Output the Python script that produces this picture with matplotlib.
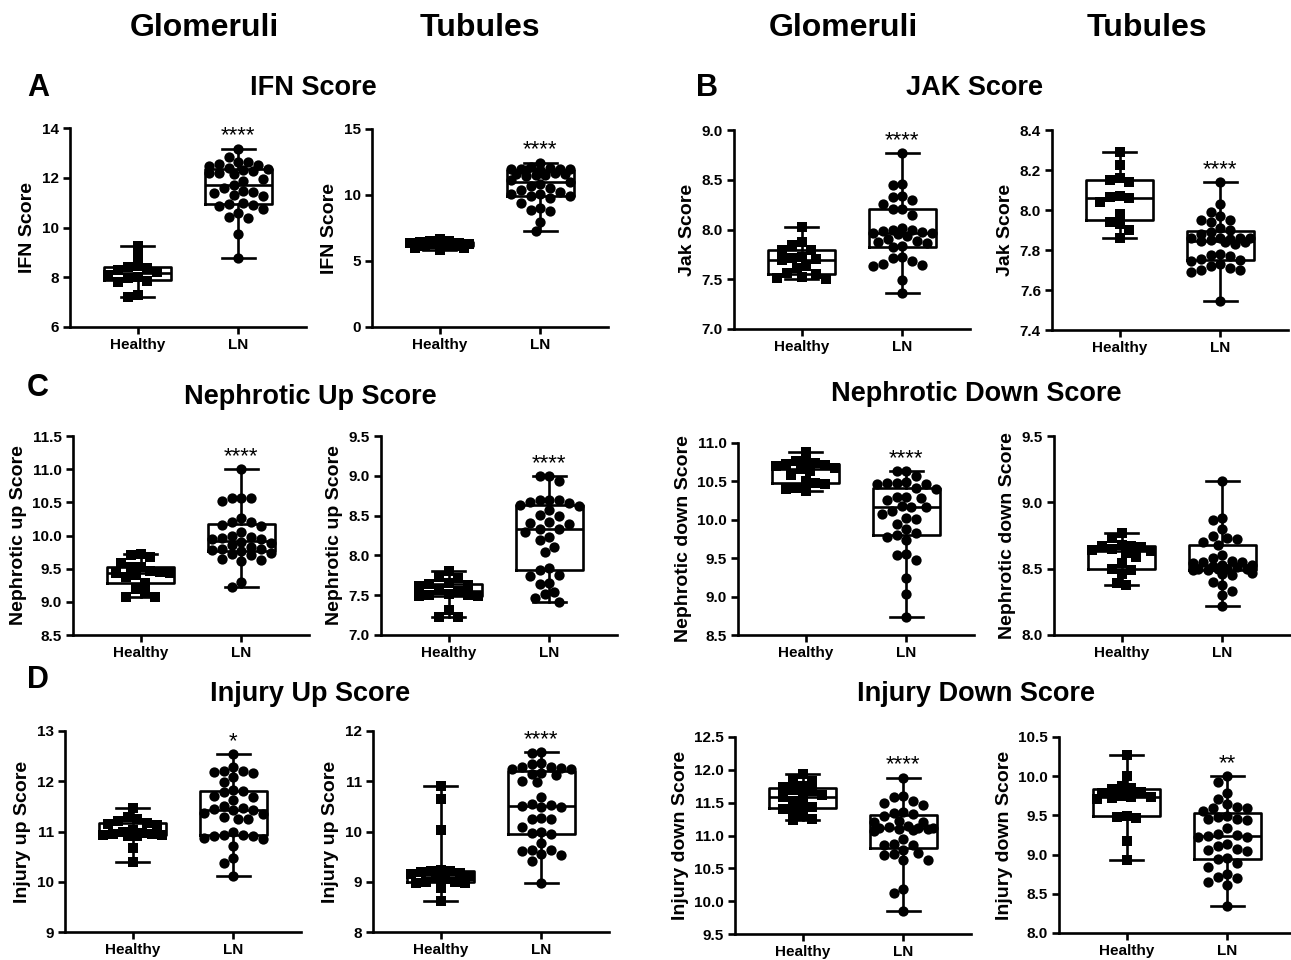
import warnings
warnings.filterwarnings("ignore")
import matplotlib
matplotlib.use("Agg")
import numpy as np
import matplotlib.pyplot as plt

plt.rcParams['font.family'] = ['Liberation Sans', 'DejaVu Sans']
plt.rcParams['font.weight'] = 'bold'

groups = ["Healthy", "LN"]

# ---------------- data ----------------
ifn_glom_healthy = [9.25, 8.85, 8.45, 8.42, 8.38, 8.3, 8.22, 8.1, 8.0, 7.95, 7.85, 7.8, 7.28, 7.2]
ifn_glom_ln = [13.17, 12.85, 12.65, 12.62, 12.55, 12.5, 12.48, 12.38, 12.36, 12.3, 12.28, 12.2, 12.18, 12.15,
               11.95, 11.85, 11.7, 11.6, 11.45, 11.42, 11.4, 11.3, 11.28, 11.0, 10.95, 10.9, 10.85, 10.75,
               10.6, 10.42, 10.38, 9.72, 8.78]

ifn_tub_healthy = [6.65, 6.55, 6.5, 6.45, 6.4, 6.35, 6.3, 6.25, 6.2, 6.15, 6.1, 6.0, 5.95, 5.8]
ifn_tub_ln = [12.45, 12.15, 12.05, 12.0, 12.0, 11.98, 11.95, 11.93, 11.9, 11.65, 11.6, 11.55, 11.5, 11.45,
              11.1, 11.0, 10.83, 10.7, 10.5, 10.4, 10.2, 10.1, 10.05, 9.95, 9.9, 9.75, 9.4, 9.0, 8.85, 8.75,
              7.95, 7.27, 11.62]

jak_glom_healthy = [8.03, 7.87, 7.84, 7.79, 7.79, 7.72, 7.71, 7.70, 7.69, 7.63, 7.61, 7.56, 7.55, 7.52, 7.51, 7.50]
jak_glom_ln = [8.77, 8.46, 8.45, 8.34, 8.33, 8.30, 8.26, 8.21, 8.21, 8.15, 8.02, 8.0, 8.0, 7.98, 7.97, 7.96,
               7.96, 7.95, 7.93, 7.9, 7.88, 7.87, 7.86, 7.83, 7.82, 7.72, 7.71, 7.68, 7.65, 7.64, 7.63, 7.49, 7.36]

jak_tub_healthy = [8.29, 8.225, 8.16, 8.15, 8.14, 8.07, 8.065, 8.06, 8.04, 7.98, 7.94, 7.93, 7.90, 7.86]
jak_tub_ln = [8.14, 8.03, 7.99, 7.97, 7.95, 7.95, 7.94, 7.91, 7.90, 7.89, 7.88, 7.86, 7.86, 7.86, 7.86, 7.855,
              7.85, 7.845, 7.84, 7.84, 7.83, 7.78, 7.775, 7.77, 7.755, 7.75, 7.745, 7.73, 7.72, 7.71, 7.70,
              7.70, 7.69, 7.547]

nup_glom_healthy = [9.72, 9.70, 9.68, 9.58, 9.53, 9.52, 9.47, 9.45, 9.44, 9.43, 9.40, 9.38, 9.28, 9.20, 9.13, 9.08, 9.07]
nup_glom_ln = [11.0, 10.57, 10.56, 10.56, 10.52, 10.26, 10.21, 10.2, 10.16, 10.14, 10.06, 10.0, 9.97, 9.96,
               9.95, 9.94, 9.90, 9.88, 9.86, 9.82, 9.80, 9.79, 9.78, 9.77, 9.74, 9.72, 9.70, 9.64, 9.63, 9.62,
               9.30, 9.22]

nup_tub_healthy = [7.81, 7.73, 7.71, 7.65, 7.64, 7.63, 7.62, 7.56, 7.55, 7.52, 7.50, 7.50, 7.49, 7.49, 7.31, 7.23, 7.22]
nup_tub_ln = [9.0, 9.0, 8.93, 8.70, 8.70, 8.69, 8.67, 8.66, 8.63, 8.62, 8.57, 8.51, 8.49, 8.42, 8.41, 8.40,
              8.33, 8.33, 8.30, 8.23, 8.19, 8.11, 8.04, 7.84, 7.82, 7.76, 7.74, 7.65, 7.64, 7.54, 7.52, 7.46, 7.42]

ndown_glom_healthy = [10.88, 10.77, 10.75, 10.74, 10.73, 10.71, 10.70, 10.68, 10.66, 10.63, 10.58, 10.50,
                      10.48, 10.47, 10.42, 10.40, 10.37]
ndown_glom_ln = [10.63, 10.63, 10.57, 10.49, 10.48, 10.48, 10.47, 10.46, 10.41, 10.40, 10.30, 10.30, 10.29,
                 10.26, 10.18, 10.17, 10.17, 10.12, 10.07, 10.02, 10.01, 9.94, 9.88, 9.83, 9.80, 9.78, 9.74,
                 9.56, 9.54, 9.48, 9.24, 9.03, 8.74]

ndown_tub_healthy = [8.77, 8.73, 8.68, 8.67, 8.67, 8.66, 8.65, 8.64, 8.63, 8.62, 8.59, 8.54, 8.50, 8.49,
                     8.46, 8.39, 8.38]
ndown_tub_ln = [9.16, 8.88, 8.87, 8.80, 8.75, 8.73, 8.72, 8.70, 8.68, 8.60, 8.58, 8.56, 8.55, 8.55, 8.54,
                8.53, 8.53, 8.52, 8.51, 8.50, 8.50, 8.50, 8.50, 8.49, 8.49, 8.47, 8.46, 8.45, 8.40, 8.38,
                8.33, 8.30, 8.22]

iup_glom_healthy = [11.46, 11.28, 11.25, 11.20, 11.17, 11.15, 11.13, 11.03, 11.0, 10.98, 10.96, 10.95, 10.94,
                    10.93, 10.92, 10.91, 10.68, 10.39]
iup_glom_ln = [12.54, 12.28, 12.21, 12.20, 12.18, 12.16, 12.08, 11.99, 11.83, 11.80, 11.78, 11.70, 11.69,
               11.63, 11.51, 11.47, 11.45, 11.43, 11.42, 11.36, 11.35, 11.28, 11.25, 11.24, 11.0, 10.94,
               10.93, 10.92, 10.91, 10.88, 10.86, 10.72, 10.47, 10.37, 10.11]

iup_tub_healthy = [10.9, 10.64, 10.03, 9.23, 9.22, 9.21, 9.20, 9.17, 9.15, 9.12, 9.10, 9.05, 9.0, 8.99,
                   8.98, 8.97, 8.87, 8.62]
iup_tub_ln = [11.58, 11.57, 11.37, 11.35, 11.29, 11.28, 11.27, 11.25, 11.24, 11.16, 11.15, 11.13, 11.0,
              10.98, 10.68, 10.55, 10.53, 10.50, 10.49, 10.48, 10.26, 10.25, 10.24, 10.09, 10.0, 9.97, 9.95,
              9.77, 9.64, 9.63, 9.62, 9.56, 9.54, 9.42, 8.98]

idown_glom_healthy = [11.93, 11.85, 11.83, 11.76, 11.74, 11.70, 11.68, 11.62, 11.60, 11.58, 11.53, 11.45,
                      11.43, 11.41, 11.38, 11.30, 11.25, 11.23]
idown_glom_ln = [11.88, 11.60, 11.58, 11.52, 11.50, 11.46, 11.36, 11.35, 11.32, 11.30, 11.22, 11.21, 11.20,
                 11.14, 11.13, 11.12, 11.12, 11.11, 11.10, 11.10, 11.08, 11.07, 10.94, 10.87, 10.86, 10.85,
                 10.78, 10.73, 10.72, 10.70, 10.63, 10.62, 10.19, 10.12, 9.85]

idown_tub_healthy = [10.27, 10.0, 9.88, 9.85, 9.84, 9.80, 9.79, 9.75, 9.74, 9.73, 9.72, 9.71, 9.49, 9.48,
                     9.47, 9.17, 8.93]
idown_tub_ln = [10.0, 9.92, 9.78, 9.71, 9.65, 9.61, 9.60, 9.59, 9.56, 9.49, 9.48, 9.46, 9.45, 9.44, 9.34,
                9.26, 9.25, 9.24, 9.23, 9.22, 9.13, 9.11, 9.07, 9.06, 9.05, 8.96, 8.94, 8.89, 8.84, 8.75,
                8.71, 8.70, 8.65, 8.61, 8.35]

ylabels = ["IFN Score", "IFN Score", "Jak Score", "Jak Score",
           "Nephrotic up Score", "Nephrotic up Score", "Nephrotic down Score", "Nephrotic down Score",
           "Injury up Score", "Injury up Score", "Injury down Score", "Injury down Score"]
stars = ["****", "****", "****", "****", "****", "****", "****", "", "*", "****", "****", "**"]
yticks = [[6, 8, 10, 12, 14], [0, 5, 10, 15],
          [7.0, 7.5, 8.0, 8.5, 9.0], [7.4, 7.6, 7.8, 8.0, 8.2, 8.4],
          [8.5, 9.0, 9.5, 10.0, 10.5, 11.0, 11.5], [7.0, 7.5, 8.0, 8.5, 9.0, 9.5],
          [8.5, 9.0, 9.5, 10.0, 10.5, 11.0], [8.0, 8.5, 9.0, 9.5],
          [9, 10, 11, 12, 13], [8, 9, 10, 11, 12],
          [9.5, 10.0, 10.5, 11.0, 11.5, 12.0, 12.5], [8.0, 8.5, 9.0, 9.5, 10.0, 10.5]]
ytick_fmt = ["%d", "%d", "%.1f", "%.1f", "%.1f", "%.1f", "%.1f", "%.1f", "%d", "%d", "%.1f", "%.1f"]

series = [(ifn_glom_healthy, ifn_glom_ln), (ifn_tub_healthy, ifn_tub_ln),
          (jak_glom_healthy, jak_glom_ln), (jak_tub_healthy, jak_tub_ln),
          (nup_glom_healthy, nup_glom_ln), (nup_tub_healthy, nup_tub_ln),
          (ndown_glom_healthy, ndown_glom_ln), (ndown_tub_healthy, ndown_tub_ln),
          (iup_glom_healthy, iup_glom_ln), (iup_tub_healthy, iup_tub_ln),
          (idown_glom_healthy, idown_glom_ln), (idown_tub_healthy, idown_tub_ln)]

# axes pixel rectangles: (left, top, bottom)
W, H = 1291, 960
AXW = 236
XLIM = (-0.67, 1.67)
rects = [(70, 128, 327), (372, 129, 327), (734, 130, 329), (1052, 130, 330),
         (73, 436, 635), (381, 436, 635), (738, 443, 635), (1054, 436, 635),
         (65, 731, 932), (373, 731, 932), (735, 737, 934), (1059, 737, 933)]

MARK_PX = 10.3      # marker diameter in pixels
SEP_PX = 9.8        # minimum centre distance in the swarm
HALF_W_PX = 34.0    # maximum horizontal spread (half box width)


def swarm_offsets(vals, ypx):
    """Horizontal offsets (pixels) for a simple beeswarm layout."""
    order = np.argsort(vals)[::-1]
    placed = []
    offs = np.zeros(len(vals))
    step = SEP_PX / 2.0
    ncand = int(HALF_W_PX // step)
    cands = [0.0]
    for k in range(1, ncand + 1):
        cands += [-k * step, k * step]
    for idx in order:
        y = vals[idx] * ypx
        best, bestd = 0.0, -1.0
        chosen = None
        for c in cands:
            if placed:
                d = min(np.hypot(c - px, y - py) for px, py in placed)
            else:
                d = 1e9
            if d >= SEP_PX:
                chosen = c
                break
            if d > bestd:
                best, bestd = c, d
        if chosen is None:
            chosen = best
        placed.append((chosen, y))
        offs[idx] = chosen
    return offs


fig = plt.figure(figsize=(W / 100, H / 100), dpi=100)

LW = 1.9
ms = MARK_PX * 72 / 100.0
for i, ((h, l), (x0, yt, yb)) in enumerate(zip(series, rects)):
    ax = fig.add_axes([x0 / W, 1 - yb / H, AXW / W, (yb - yt) / H])
    yt_ = yticks[i]
    ax.set_xlim(*XLIM)
    ax.set_ylim(yt_[0], yt_[-1])
    ax.boxplot([h, l], positions=[0, 1], widths=0.67, whis=(0, 100), showfliers=False,
               capwidths=0.33,
               medianprops=dict(color="black", lw=LW), boxprops=dict(color="black", lw=LW),
               whiskerprops=dict(color="black", lw=LW), capprops=dict(color="black", lw=LW),
               zorder=2)
    ypx = (yb - yt) / (yt_[-1] - yt_[0])
    xpx = AXW / (XLIM[1] - XLIM[0])
    for pos, vals, mk, sz in [(0, h, "s", ms * 0.9), (1, l, "o", ms)]:
        v = np.asarray(vals, float)
        off = swarm_offsets(v, ypx) / xpx
        ax.plot(pos + off, v, linestyle="none", marker=mk, markersize=sz, color="black",
                markeredgewidth=0, zorder=3, clip_on=False)
    ax.set_xlim(*XLIM)
    ax.set_ylim(yt_[0], yt_[-1])
    ax.set_yticks(yt_)
    ax.set_yticklabels([ytick_fmt[i] % v for v in yt_], fontsize=11, fontweight="bold")
    ax.set_xticks([0, 1])
    ax.set_xticklabels(groups, fontsize=11, fontweight="bold")
    ax.set_ylabel(ylabels[i], fontsize=14, fontweight="bold", labelpad=4)
    for s in ["top", "right"]:
        ax.spines[s].set_visible(False)
    for s in ["left", "bottom"]:
        ax.spines[s].set_linewidth(1.9)
    ax.tick_params(axis="both", width=1.9, length=5, direction="out", pad=3)
    ax.patch.set_alpha(0)
    if stars[i]:
        ax.annotate(stars[i], xy=(1, max(l)), xytext=(0, 1.5), textcoords="offset points",
                    ha="center", va="bottom", fontsize=16, fontweight="normal")


def ftext(x, y, s, size, ha="center"):
    fig.text(x / W, 1 - y / H, s, fontsize=size, fontweight="bold", ha=ha, va="center")


for x, s in [(204, "Glomeruli"), (480, "Tubules"), (843, "Glomeruli"), (1147, "Tubules")]:
    ftext(x, 28, s, 23)
for x, y, s in [(38, 88, "A"), (707, 88, "B"), (38, 388, "C"), (38, 680, "D")]:
    ftext(x, y, s, 22)
for x, y, s in [(313, 88, "IFN Score"), (975, 88, "JAK Score"), (310, 397, "Nephrotic Up Score"),
                (976, 394, "Nephrotic Down Score"), (310, 694, "Injury Up Score"),
                (976, 694, "Injury Down Score")]:
    ftext(x, y, s, 19.5)

fig.savefig("out.png", dpi=100)
